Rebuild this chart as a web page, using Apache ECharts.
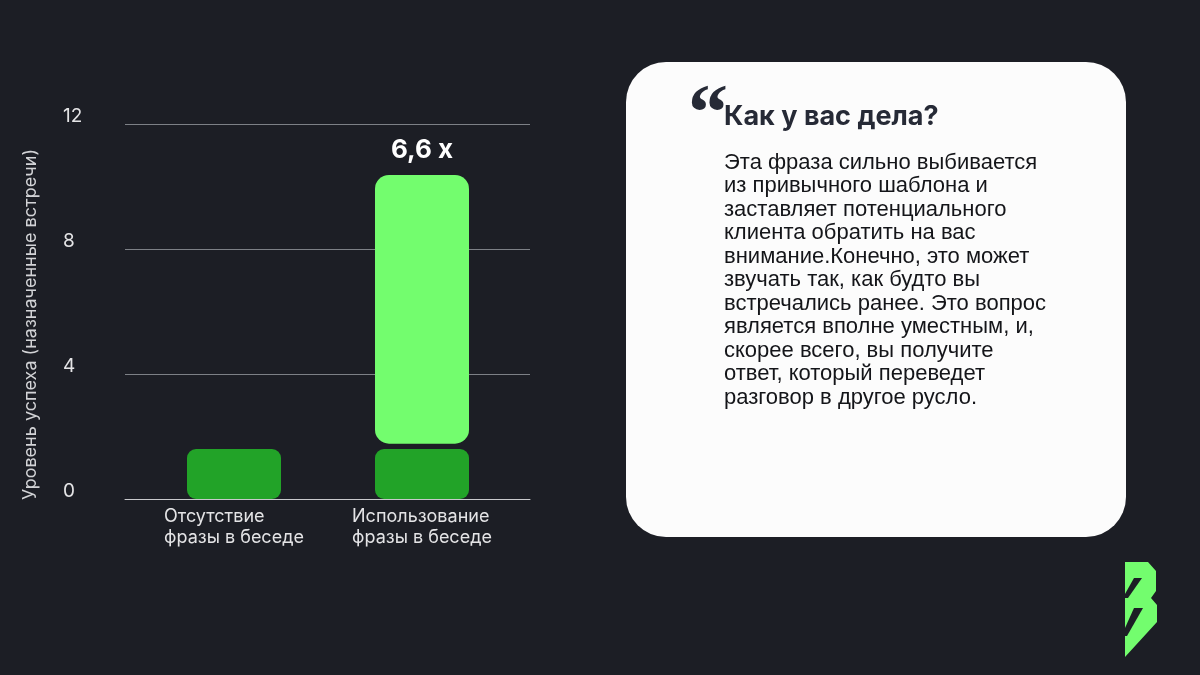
<!DOCTYPE html>
<html>
<head>
<meta charset="utf-8">
<script src="https://cdn.jsdelivr.net/npm/echarts@6/dist/echarts.min.js"></script>
<style>
html,body{margin:0;padding:0;background:#1c1e25;}
#chart{width:1200px;height:675px;}
</style>
</head>
<body>
<div id="chart"></div>
<script>
// ---- data ----
const categories = ['Отсутствие\nфразы в беседе', 'Использование\nфразы в беседе'];
const baseValues = [1.6, 1.6];          // dark green (baseline level)
const gapValues = [null, 0.17];         // visual gap between stacked parts
const boostValues = [null, 8.6];        // light green (increase)
const boostLabels = ['', '6,6 x'];
const yTicks = { min: 0, max: 12, interval: 4 };
const yAxisName = 'Уровень успеха (назначенные встречи)';
const cardTitle = 'Как у вас дела?';
const cardLines = [
  'Эта фраза сильно выбивается',
  'из привычного шаблона и',
  'заставляет потенциального',
  'клиента обратить на вас',
  'внимание.Конечно, это может',
  'звучать так, как будто вы',
  'встречались ранее. Это вопрос',
  'является вполне уместным, и,',
  'скорее всего, вы получите',
  'ответ, который переведет',
  'разговор в другое русло.'
];

const BG = '#1c1e25';
const chart = echarts.init(document.getElementById('chart'), null, {renderer: 'canvas'});

const option = {
  backgroundColor: BG,
  animation: false,
  grid: [
    {left: 125, top: 124, width: 405, height: 375},
    {left: 140, top: 124, width: 376, height: 375}
  ],
  xAxis: [
    {
      type: 'category', gridIndex: 0, data: categories,
      axisLine: {show: true, lineStyle: {color: '#c8c9cc', width: 1}},
      axisTick: {show: false}, axisLabel: {show: false}
    },
    {
      type: 'category', gridIndex: 1, data: categories,
      axisLine: {show: false}, axisTick: {show: false},
      axisLabel: {
        margin: 7,
        formatter: function (v) {
          return v.split('\n').map(s => '{a|' + s + '}').join('\n');
        },
        rich: {
          a: {align: 'left', color: '#e4e4e6', fontFamily: 'Inter', fontSize: 18, lineHeight: 21}
        }
      }
    }
  ],
  yAxis: [
    {
      type: 'value', gridIndex: 0,
      min: yTicks.min, max: yTicks.max, interval: yTicks.interval,
      axisLine: {show: false}, axisTick: {show: false},
      splitLine: {lineStyle: {color: '#7d8086', width: 1}},
      axisLabel: {
        align: 'left', margin: 62, verticalAlign: 'bottom', lineHeight: 16,
        color: '#e4e4e6', fontFamily: 'Inter', fontSize: 19
      },
      name: yAxisName, nameLocation: 'middle', nameGap: 85, nameRotate: 90,
      nameTextStyle: {color: '#d2d3d6', fontFamily: 'Inter', fontSize: 18, padding: [0, 26, 0, 0]}
    },
    {
      type: 'value', gridIndex: 1,
      min: yTicks.min, max: yTicks.max, interval: yTicks.interval,
      show: false, splitLine: {show: false}
    }
  ],
  series: [
    {
      type: 'bar', xAxisIndex: 1, yAxisIndex: 1, stack: 'total',
      data: baseValues, barWidth: 94,
      itemStyle: {color: '#22a328', borderRadius: 9},
      emphasis: {disabled: true}
    },
    {
      type: 'bar', xAxisIndex: 1, yAxisIndex: 1, stack: 'total',
      data: gapValues, barWidth: 94,
      itemStyle: {color: 'rgba(0,0,0,0)'},
      emphasis: {disabled: true}
    },
    {
      type: 'bar', xAxisIndex: 1, yAxisIndex: 1, stack: 'total',
      data: boostValues, barWidth: 94,
      itemStyle: {color: '#73fd6e', borderRadius: 14},
      emphasis: {disabled: true},
      label: {
        show: true, position: 'top', distance: 12,
        formatter: p => boostLabels[p.dataIndex],
        color: '#ffffff', fontFamily: 'Inter', fontWeight: 'bold', fontSize: 26
      }
    }
  ],
  graphic: [
    {
      type: 'rect', left: 626, top: 62, z: 10,
      shape: {width: 500, height: 475, r: 40},
      style: {fill: '#fcfcfc'}
    },
    {
      type: 'text', left: 688, top: 78, z: 11,
      style: {text: '\u201C', fill: '#262a36', font: 'bold 80px "Liberation Serif"'}
    },
    {
      type: 'text', left: 724, top: 103, z: 11,
      style: {text: cardTitle, fill: '#262a36', font: 'bold 27px Inter'}
    },
    {
      type: 'text', left: 724, top: 151, z: 11,
      style: {text: cardLines.join('\n'), fill: '#141519', font: '22px "Liberation Sans"', lineHeight: 23.5}
    },
    // logo
    {
      type: 'polygon', z: 11,
      shape: {points: [[1125,562],[1148,562],[1156,571],[1156,591],[1151,598],[1157,605],[1157,622],[1125,657]]},
      style: {fill: '#73fd6e'}
    },
    {
      type: 'polygon', z: 12,
      shape: {points: [[1134,578],[1142,578],[1128,598],[1125,598],[1125,594]]},
      style: {fill: BG}
    },
    {
      type: 'polygon', z: 12,
      shape: {points: [[1134,608],[1143,608],[1127,636],[1125,636],[1125,628]]},
      style: {fill: BG}
    }
  ]
};
chart.setOption(option);
</script>
</body>
</html>
